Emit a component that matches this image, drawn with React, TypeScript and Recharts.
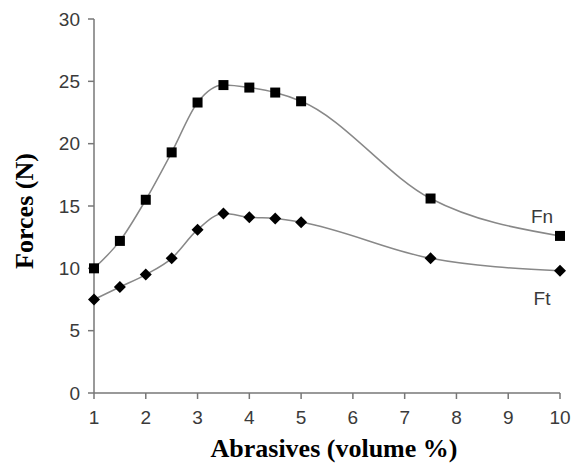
import React from 'react';
import { LineChart, Line, XAxis, YAxis, LabelList, Label } from 'recharts';

const abrasives = [1, 1.5, 2, 2.5, 3, 3.5, 4, 4.5, 5, 7.5, 10];
const fnValues = [10.0, 12.2, 15.5, 19.3, 23.3, 24.7, 24.5, 24.1, 23.4, 15.6, 12.6];
const ftValues = [7.5, 8.5, 9.5, 10.8, 13.1, 14.4, 14.1, 14.0, 13.7, 10.8, 9.8];
const xTicks = [1, 2, 3, 4, 5, 6, 7, 8, 9, 10];
const yTicks = [0, 5, 10, 15, 20, 25, 30];

const data = abrasives.map((x, i) => ({ x, fn: fnValues[i], ft: ftValues[i] }));

const tickStyle = { fill: '#3a3a3a', fontSize: 19, fontFamily: 'Liberation Sans, Arial, sans-serif' };
const titleFont = 'Liberation Serif, Times New Roman, serif';

const SquareDot = (props: any) => {
  const { cx, cy } = props;
  if (cx == null || cy == null) return null;
  return <rect x={cx - 5} y={cy - 5} width={10} height={10} fill="#000" />;
};

const DiamondDot = (props: any) => {
  const { cx, cy } = props;
  if (cx == null || cy == null) return null;
  return <path d={`M${cx},${cy - 6}L${cx + 6},${cy}L${cx},${cy + 6}L${cx - 6},${cy}Z`} fill="#000" />;
};

// series name next to the last point
const endLabel = (name: string, dy: number) => (props: any) => {
  const { x, y, index } = props;
  if (index !== abrasives.length - 1) return null;
  return (
    <text x={x - 18} y={y + dy} textAnchor="middle" style={tickStyle} fill="#3a3a3a">
      {name}
    </text>
  );
};

const YTitle = (props: any) => {
  const { viewBox } = props;
  const cx = viewBox.x + 24;
  const cy = viewBox.y + viewBox.height / 2 + 5;
  return (
    <text x={cx} y={cy} transform={`rotate(-90, ${cx}, ${cy})`} textAnchor="middle" dominantBaseline="central"
      fontFamily={titleFont} fontWeight="bold" fontSize={26} fill="#000">
      Forces (N)
    </text>
  );
};

const XTitle = (props: any) => {
  const { viewBox } = props;
  return (
    <text x={viewBox.x + viewBox.width / 2 + 7} y={viewBox.y + 64} textAnchor="middle"
      fontFamily={titleFont} fontWeight="bold" fontSize={26} fill="#000">
      Abrasives (volume %)
    </text>
  );
};

export default function App() {
  return (
    <div style={{ position: 'absolute', left: 0, top: 0, width: 573, height: 463, background: '#fff' }}>
      <LineChart width={573} height={463} data={data} margin={{ top: 19, right: 13, bottom: 0, left: 0 }}>
        <XAxis
          dataKey="x"
          type="number"
          domain={[1, 10]}
          ticks={xTicks}
          height={70}
          tick={tickStyle}
          tickSize={6}
          tickMargin={12}
          stroke="#777"
          strokeWidth={1.5}
          allowDecimals
        >
          <Label content={<XTitle />} />
        </XAxis>
        <YAxis
          type="number"
          domain={[0, 30]}
          ticks={yTicks}
          width={94}
          tick={tickStyle}
          tickSize={6}
          tickMargin={8}
          stroke="#777"
          strokeWidth={1.5}
        >
          <Label content={<YTitle />} />
        </YAxis>
        <Line
          dataKey="fn"
          type="monotone"
          stroke="#888"
          strokeWidth={1.5}
          dot={<SquareDot />}
          activeDot={false}
          isAnimationActive={false}
        >
          <LabelList dataKey="fn" content={endLabel('Fn', -13)} />
        </Line>
        <Line
          dataKey="ft"
          type="monotone"
          stroke="#888"
          strokeWidth={1.5}
          dot={<DiamondDot />}
          activeDot={false}
          isAnimationActive={false}
        >
          <LabelList dataKey="ft" content={endLabel('Ft', 34)} />
        </Line>
      </LineChart>
    </div>
  );
}
